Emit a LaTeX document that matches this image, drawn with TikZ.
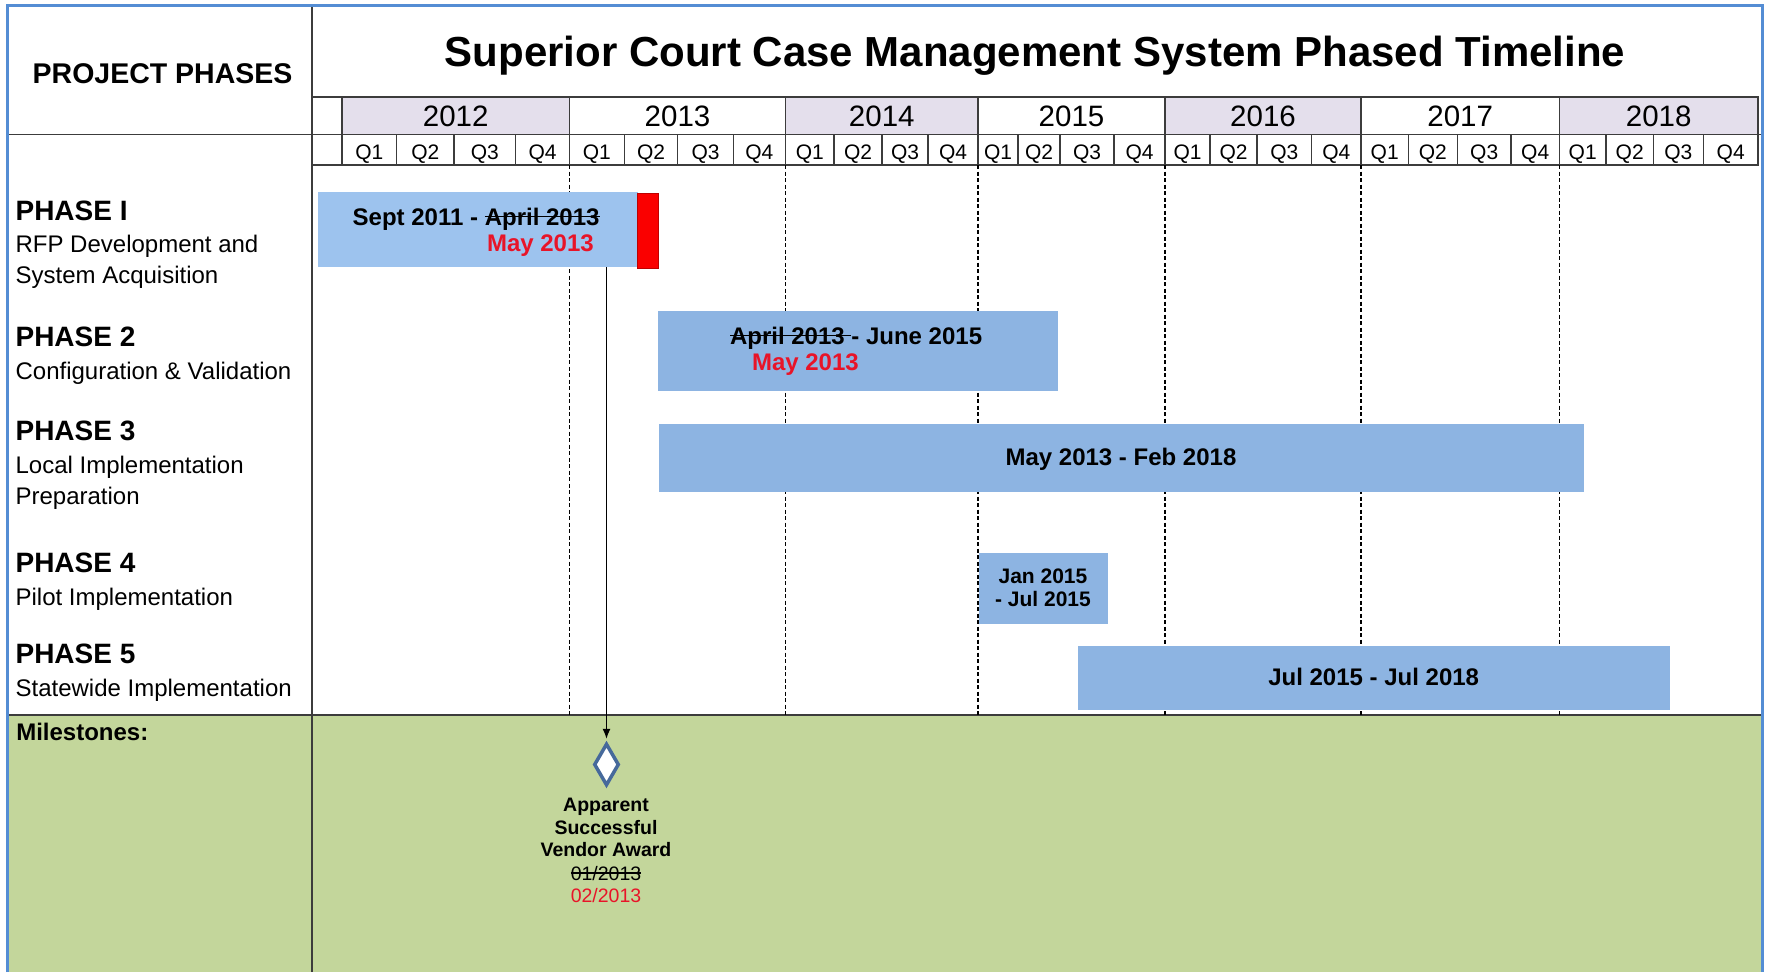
\documentclass[tikz,border=0pt]{standalone}
\usepackage{fontspec}
\setmainfont{Liberation Sans}
\usetikzlibrary{arrows.meta,shapes.geometric}
\definecolor{borderblue}{RGB}{84,141,212}
\definecolor{gridgray}{RGB}{60,60,60}
\definecolor{lav}{RGB}{228,223,236}
\definecolor{barlight}{RGB}{157,195,238}
\definecolor{barblue}{RGB}{141,180,226}
\definecolor{msgreen}{RGB}{195,214,155}
\definecolor{redtxt}{RGB}{232,20,40}
\definecolor{redblock}{RGB}{250,0,0}
\definecolor{diamondblue}{RGB}{70,105,155}
\newcommand\strk[1]{\setbox0=\hbox{#1}\rlap{\rule[0.33em]{\wd0}{1.5pt}}\box0}
\newcommand\fsz[1]{\fontsize{#1}{#1}\selectfont}
\begin{document}
\begin{tikzpicture}[x=1pt,y=-1pt,
  lbl/.style={inner sep=0pt, outer sep=0pt, anchor=base west},
  ctr/.style={inner sep=0pt, outer sep=0pt, anchor=base},
  rgt/.style={inner sep=0pt, outer sep=0pt, anchor=base east},
  barbox/.style={fill=barblue, draw=none, inner sep=0pt, outer sep=0pt, anchor=north west},
  gridline/.style={draw=gridgray, line width=1.6pt},
  qline/.style={draw=gridgray, line width=1.1pt},
  yeardash/.style={draw=black, line width=1.1pt, dash pattern=on 4pt off 2.5pt},
  head/.style={lbl, font={\fsz{28}\bfseries}},
  desc/.style={lbl, font={\fsz{24}}},
  bartxt/.style={font={\fsz{24}\bfseries}},
  mstxt/.style={ctr, font={\fsz{19.5}\bfseries}},
  arr/.style={-{Latex[length=10pt,width=8pt]}, line width=1.2pt, black, shorten >=3pt}
]
\useasboundingbox (0,0) rectangle (1766,972);
\fill[white] (0,0) rectangle (1766,972);
\fill[msgreen] (7,715) rectangle (1762,972);

% year row
\foreach \a/\b/\yr/\sh in {342/569.5/2012/lav,569.5/785.5/2013/white,785.5/978/2014/lav,978/1165/2015/white,1165/1361/2016/lav,1361/1559.3/2017/white,1559.3/1758/2018/lav}{
  \fill[\sh] (\a,96.7) rectangle (\b,134.3);
  \draw[gridline] (\a,96.7) rectangle (\b,134.3);
  \node[ctr, font={\fsz{29.5}}] (y\yr) at ({(\a+\b)/2},126.7) {\yr};
}
% quarter row
\foreach \a/\b [count=\i from 0] in {342/396.7,396.7/454,454/515.7,515.7/569.5,
  569.5/624.3,624.3/677.7,677.7/733.3,733.3/785.5,
  785.5/834,834/882,882/928,928/978,
  978/1018,1018/1060,1060/1114,1114/1165,
  1165/1210,1210/1257,1257/1311.7,1311.7/1361,
  1361/1408.3,1408.3/1457.3,1457.3/1511,1511/1559.3,
  1559.3/1606,1606/1653.3,1653.3/1703.3,1703.3/1758}{
  \pgfmathtruncatemacro\qq{mod(\i,4)+1}
  \draw[qline] (\a,134.3) rectangle (\b,165);
  \node[ctr, font={\fsz{21}}] (q\i) at ({(\a+\b)/2},159.3) {Q\qq};
}
% grid lines
\draw[gridline] (311.7,96.7) -- (1758,96.7);
\draw[gridline] (7,134.3) -- (1762,134.3);
\draw[gridline] (311.7,165) -- (1758,165);
\draw[gridline] (342,96.7) -- (342,165);
\draw[gridline] (7,715) -- (1762,715);
\draw[gridline] (311.7,5) -- (311.7,972);

% dashed year separators
\foreach \x in {569.5,785.5,978,1165,1361,1559.3}
  \draw[yeardash] (\x,165) -- (\x,715);

% headings
\node[ctr, font={\fsz{42}\bfseries}] (title) at (1035,66) {Superior Court Case Management System Phased Timeline};
\node[ctr, font={\fsz{28.5}\bfseries}] (pp) at (162.6,83.3) {PROJECT PHASES};

% phase labels
\node[head] (h1) at (15.6,220) {PHASE I};
\node[desc] (d1a) at (15.6,252.7) {RFP Development and};
\node[desc] (d1b) at (15.6,283) {System Acquisition};
\node[head] (h2) at (15.6,346.7) {PHASE 2};
\node[desc] (d2a) at (15.6,379.3) {Configuration \& Validation};
\node[head] (h3) at (15.6,440) {PHASE 3};
\node[desc] (d3a) at (15.6,473) {Local Implementation};
\node[desc] (d3b) at (15.6,504) {Preparation};
\node[head] (h4) at (15.6,572.5) {PHASE 4};
\node[desc] (d4a) at (15.6,605.5) {Pilot Implementation};
\node[head] (h5) at (15.6,663.7) {PHASE 5};
\node[desc] (d5a) at (15.6,696.7) {Statewide Implementation};
\node[lbl, font={\fsz{24}\bfseries}] (mil) at (16.3,740.7) {Milestones:};

% bars
\node[barbox, fill=barlight, minimum width=319.5pt, minimum height=75.8pt] (p1) at (318,191.5) {};
\node[barbox, fill=redblock, draw={rgb,255:red,190;green,0;blue,0}, line width=0.8pt, minimum width=21pt, minimum height=75pt] (p1r) at (637.5,193) {};
\node[barbox, minimum width=400.5pt, minimum height=79.7pt] (p2) at (657.5,311) {};
\node[barbox, minimum width=925.5pt, minimum height=68.3pt] (p3) at (658.5,424) {};
\node[barbox, minimum width=129.5pt, minimum height=71.3pt] (p4) at (978.5,552.7) {};
\node[barbox, minimum width=591.6pt, minimum height=64.3pt] (p5) at (1078,645.7) {};

% bar texts
\node[lbl, bartxt] (t1a) at (352.7,225) {Sept 2011 - \strk{April 2013}};
\node[rgt, bartxt, text=redtxt] (t1b) at (593.8,251.7) {May 2013};
\node[lbl, bartxt] (t2a) at (730,344.3) {\strk{April 2013 }- June 2015};
\node[lbl, bartxt, text=redtxt] (t2b) at (752,370.7) {May 2013};
\node[ctr, bartxt] (t3) at (1121,465) {May 2013 - Feb 2018};
\node[ctr, font={\fsz{21}\bfseries}] (t4a) at (1043,583.3) {Jan 2015};
\node[ctr, font={\fsz{21}\bfseries}] (t4b) at (1043,606.7) {- Jul 2015};
\node[ctr, bartxt] (t5) at (1373.7,685) {Jul 2015 - Jul 2018};

% milestone
\node[diamond, draw=diamondblue, fill=white, line width=3.5pt, inner sep=0pt,
      minimum width=25pt, minimum height=42pt] (ms) at (606.5,764.5) {};
\draw[arr] (ms.north |- p1.south) -- (ms.north);
\node[mstxt] (m1) at (606,811.7) {Apparent};
\node[mstxt] (m2) at (606,834) {Successful};
\node[mstxt] (m3) at (606,856.7) {Vendor Award};
\node[ctr, font={\fsz{19.5}}] (m4) at (606,880) {\strk{01/2013}};
\node[ctr, font={\fsz{19.5}}, text=redtxt] (m5) at (606,902.3) {02/2013};

% outer frame
\draw[borderblue, line width=3pt] (7,972) -- (7,5) -- (1762,5) -- (1762,972);
\end{tikzpicture}
\end{document}
